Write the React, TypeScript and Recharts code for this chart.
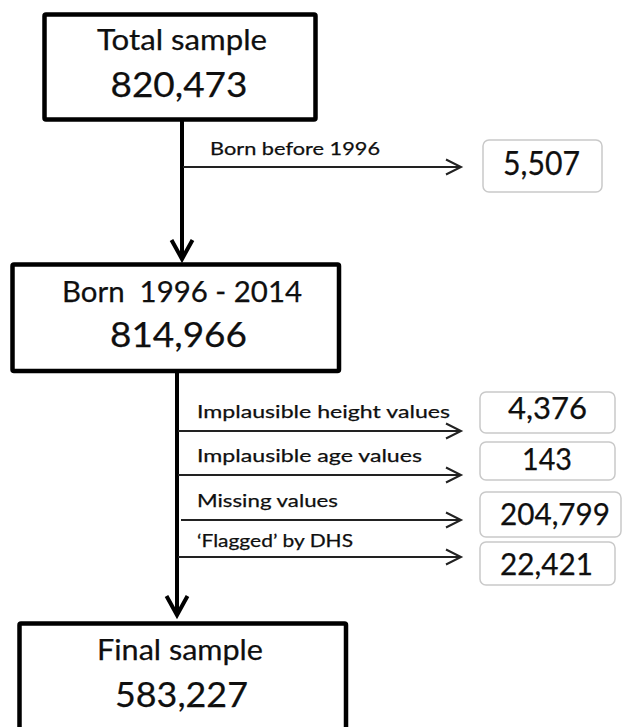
import React from 'react';
import { ScatterChart, Scatter, XAxis, YAxis, ReferenceArea, ReferenceLine } from 'recharts';

// ---------- data ----------
const stageLabels = ['Total sample', 'Born  1996 - 2014', 'Final sample'];
const stageCounts = [820473, 814966, 583227];
const exclusionReasons = [
  'Born before 1996',
  'Implausible height values',
  'Implausible age values',
  'Missing values',
  '\u2018Flagged\u2019 by DHS',
];
const exclusionCounts = [5507, 4376, 143, 204799, 22421];

// ---------- layout (chart coordinates) ----------
const W = 623;
const H = 727;
const FONT = "Lato, 'Open Sans', sans-serif";

const stageBoxLayout = [
  { x1: 44.5, x2: 315.5, y1: 14.5, y2: 119.5 },
  { x1: 12.5, x2: 339, y1: 264.5, y2: 371 },
  { x1: 19.5, x2: 346, y1: 623.5, y2: 790 },
];
const stageTitleLayout = [
  { cx: 182, base: 50, len: 170 },
  { cx: 182, base: 302, len: 240 },
  { cx: 180, base: 660, len: 166 },
];
const stageCountLayout = [
  { cx: 179, base: 97, len: 137 },
  { cx: 178.5, base: 347, len: 137 },
  { cx: 181.5, base: 707, len: 133 },
];
const trunkLayout = [
  { x: 182, y1: 121, y2: 259 },
  { x: 177, y1: 373, y2: 615 },
];
const branchLayout = [
  { y: 167, x1: 183, x2: 461, lx: 210, lb: 155, ll: 170, box: { x1: 483, x2: 602, y1: 140, y2: 192 }, ncx: 541.5, nb: 175, nl: 77 },
  { y: 431, x1: 178, x2: 461, lx: 197, lb: 418, ll: 253, box: { x1: 480, x2: 615, y1: 392, y2: 433 }, ncx: 547.5, nb: 419, nl: 79 },
  { y: 475, x1: 178, x2: 461, lx: 197, lb: 462, ll: 225, box: { x1: 480, x2: 615, y1: 442, y2: 480 }, ncx: 547, nb: 470, nl: 50 },
  { y: 520, x1: 181, x2: 461, lx: 197, lb: 507, ll: 141, box: { x1: 480, x2: 621, y1: 492, y2: 537 }, ncx: 555, nb: 525, nl: 110 },
  { y: 557, x1: 178, x2: 461, lx: 197, lb: 547, ll: 156, box: { x1: 480, x2: 615, y1: 542, y2: 585 }, ncx: 546.5, nb: 575, nl: 93 },
];

const fmt = (n: number) => n.toLocaleString('en-US');

// text items built from the data arrays + layout
const textItems: any[] = [];
stageLabels.forEach((t, i) => {
  const l = stageTitleLayout[i];
  textItems.push({ x: l.cx, y: l.base, text: t, anchor: 'middle', size: 29, len: l.len });
});
stageCounts.forEach((c, i) => {
  const l = stageCountLayout[i];
  textItems.push({ x: l.cx, y: l.base, text: fmt(c), anchor: 'middle', size: 34, len: l.len });
});
exclusionReasons.forEach((t, i) => {
  const l = branchLayout[i];
  textItems.push({ x: l.lx, y: l.lb, text: t, anchor: 'start', size: 18, len: l.ll });
});
exclusionCounts.forEach((c, i) => {
  const l = branchLayout[i];
  textItems.push({ x: l.ncx, y: l.nb, text: fmt(c), anchor: 'middle', size: i === 0 ? 32 : 30, len: l.nl });
});

const heads: any[] = [
  ...trunkLayout.map((t) => ({ x: t.x, y: t.y2, dir: 'down', size: 19, spread: 10.5, w: 4 })),
  ...branchLayout.map((b) => ({ x: b.x2, y: b.y, dir: 'right', size: 15, spread: 7.5, w: 2 })),
];

const TextShape = (props: any) => {
  const { cx, cy, payload } = props;
  return (
    <text
      x={cx}
      y={cy}
      textAnchor={payload.anchor}
      fontSize={payload.size}
      fontFamily={FONT}
      fill="#0f0f0f"
      stroke="#0f0f0f"
      strokeWidth={0.25}
      textLength={payload.len}
      lengthAdjust="spacingAndGlyphs"
      xmlSpace="preserve"
      style={{ whiteSpace: 'pre' }}
    >
      {payload.text}
    </text>
  );
};

const HeadShape = (props: any) => {
  const { cx, cy, payload } = props;
  const { dir, size, spread, w } = payload;
  const pts =
    dir === 'down'
      ? `${cx - spread},${cy - size} ${cx},${cy} ${cx + spread},${cy - size}`
      : `${cx - size},${cy - spread} ${cx},${cy} ${cx - size},${cy + spread}`;
  return <polyline points={pts} fill="none" stroke={dir === 'down' ? '#000' : '#222'} strokeWidth={w} strokeLinejoin="miter" />;
};

const StageRect = (props: any) => (
  <rect x={props.x} y={props.y} width={props.width} height={props.height} fill="none" stroke="#000" strokeWidth={4.5} rx={1.5} />
);
const SideRect = (props: any) => (
  <rect x={props.x} y={props.y} width={props.width} height={props.height} fill="none" stroke="#c9c9c9" strokeWidth={1.5} rx={6} />
);

export default function App() {
  return (
    <div style={{ position: 'absolute', left: 0, top: 0, width: W, height: H, background: '#fff' }}>
      <ScatterChart width={W} height={H} margin={{ top: 0, right: 0, bottom: 0, left: 0 }}>
        <XAxis type="number" dataKey="x" domain={[0, W]} allowDataOverflow hide />
        <YAxis type="number" dataKey="y" domain={[0, H]} allowDataOverflow reversed hide />
        {stageBoxLayout.map((b, i) => (
          <ReferenceArea key={'s' + i} x1={b.x1} x2={b.x2} y1={b.y1} y2={b.y2} ifOverflow="visible" shape={StageRect} />
        ))}
        {branchLayout.map((b, i) => (
          <ReferenceArea key={'e' + i} x1={b.box.x1} x2={b.box.x2} y1={b.box.y1} y2={b.box.y2} ifOverflow="visible" shape={SideRect} />
        ))}
        {trunkLayout.map((t, i) => (
          <ReferenceLine
            key={'t' + i}
            segment={[{ x: t.x, y: t.y1 }, { x: t.x, y: t.y2 - 1 }]}
            stroke="#000"
            strokeWidth={4}
            ifOverflow="visible"
          />
        ))}
        {branchLayout.map((b, i) => (
          <ReferenceLine
            key={'b' + i}
            segment={[{ x: b.x1, y: b.y }, { x: b.x2 - 1, y: b.y }]}
            stroke="#222"
            strokeWidth={2}
            ifOverflow="visible"
          />
        ))}
        <Scatter data={heads} shape={HeadShape} isAnimationActive={false} />
        <Scatter data={textItems} shape={TextShape} isAnimationActive={false} />
      </ScatterChart>
    </div>
  );
}
